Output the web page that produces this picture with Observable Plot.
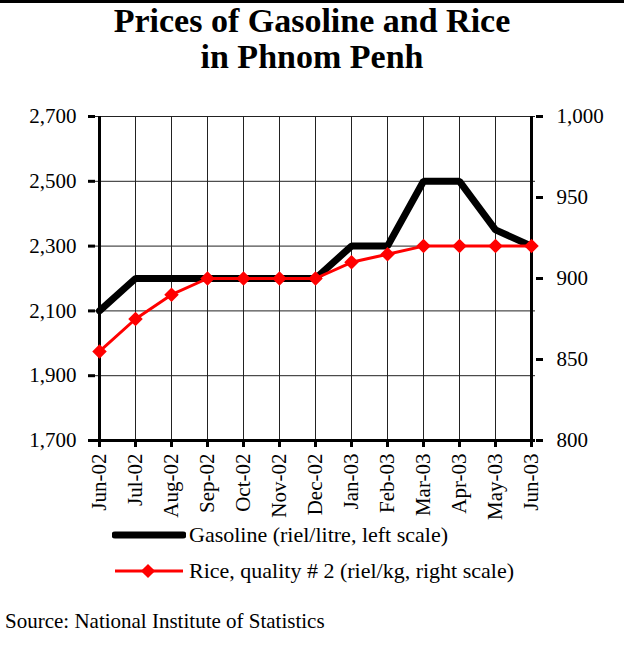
<!DOCTYPE html>
<html><head><meta charset="utf-8">
<script src="https://cdn.jsdelivr.net/npm/d3@7"></script>
<script src="https://cdn.jsdelivr.net/npm/@observablehq/plot@0.6"></script>
<style>
body{margin:0;background:#fff;font-family:"Liberation Serif","Times New Roman",serif;color:#000}
#wrap{width:624px;height:657px;position:relative;border-top:3px solid #000;box-sizing:border-box;overflow:hidden}
#title{position:absolute;top:0px;left:0;width:624px;text-align:center;font-weight:bold;font-size:34px;line-height:36px}
#chart{position:absolute;top:89px;left:0}
.leg{position:absolute;left:112px;font-size:22px;display:flex;align-items:center;white-space:nowrap}
.leg svg{margin-right:3px}
#source{position:absolute;left:5px;top:606px;font-size:21px}
</style></head>
<body>
<div id="wrap">
<div id="title">Prices of Gasoline and Rice<br>in Phnom Penh</div>
<div id="chart"></div>
<div class="leg" style="top:519px"><svg width="74" height="12"><line x1="3" y1="6" x2="71" y2="6" stroke="#000" stroke-width="7" stroke-linecap="round"/></svg>Gasoline (riel/litre, left scale)</div>
<div class="leg" style="top:555px"><svg width="74" height="16"><line x1="3" y1="8" x2="71" y2="8" stroke="#f00" stroke-width="3"/><rect x="31" y="3" width="10" height="10" fill="#f00" transform="rotate(45 36 8)"/></svg>Rice, quality # 2 (riel/kg, right scale)</div>
<div id="source">Source: National Institute of Statistics</div>
</div>
<script>
const months = ["Jun-02","Jul-02","Aug-02","Sep-02","Oct-02","Nov-02","Dec-02","Jan-03","Feb-03","Mar-03","Apr-03","May-03","Jun-03"];
const gasoline = [2100,2200,2200,2200,2200,2200,2200,2300,2300,2500,2500,2350,2300];
const rice = [855,875,890,900,900,900,900,910,915,920,920,920,920];
const leftTicks = [1700,1900,2100,2300,2500,2700];
const rightTicks = [800,850,900,950,1000];

// right scale (800–1000) mapped onto left scale (1700–2700)
const toLeft = v => 1700 + (v - 800) * 5;
const gasData = months.map((m,i) => ({month:m, value:gasoline[i]}));
const riceData = months.map((m,i) => ({month:m, value:toLeft(rice[i])}));
const fmt = d3.format(",");

const plot = Plot.plot({
  width: 624,
  height: 435,
  marginTop: 24,
  marginBottom: 87,
  marginLeft: 95,
  marginRight: 89,
  style: {fontFamily: "'Liberation Serif','Times New Roman',serif", fontSize: "21px", color: "#000", background: "#fff", overflow: "visible"},
  x: {type: "point", domain: months, padding: 0, label: null},
  y: {domain: [1700, 2700], label: null},
  marks: [
    Plot.gridX(months, {stroke: "#222", strokeOpacity: 1, strokeWidth: 1}),
    Plot.gridY(leftTicks, {stroke: "#222", strokeOpacity: 1, strokeWidth: 1}),
    Plot.axisY(leftTicks, {anchor: "left", tickFormat: fmt, tickSize: 7, tickPadding: 12, strokeWidth: 3, fontSize: 21, label: null}),
    Plot.axisY(rightTicks.map(toLeft), {anchor: "right", tickFormat: d => fmt((d - 1700) / 5 + 800), tickSize: 7, tickPadding: 14, strokeWidth: 3, fontSize: 21, label: null}),
    Plot.axisX(months, {anchor: "bottom", tickRotate: -90, tickSize: 7, tickPadding: 6, strokeWidth: 3, fontSize: 21, label: null}),
    Plot.ruleY([1700], {stroke: "#000", strokeWidth: 3}),
    Plot.ruleX([months[0], months[months.length-1]], {stroke: "#000", strokeWidth: 3}),
    Plot.line(gasData, {x: "month", y: "value", stroke: "#000", strokeWidth: 7, strokeLinejoin: "miter"}),
    Plot.line(riceData, {x: "month", y: "value", stroke: "#f00", strokeWidth: 3}),
    Plot.dot(riceData, {x: "month", y: "value", symbol: "square", rotate: 45, r: 5.8, fill: "#f00", stroke: "none"})
  ]
});
document.getElementById("chart").appendChild(plot);
</script>
</body></html>
